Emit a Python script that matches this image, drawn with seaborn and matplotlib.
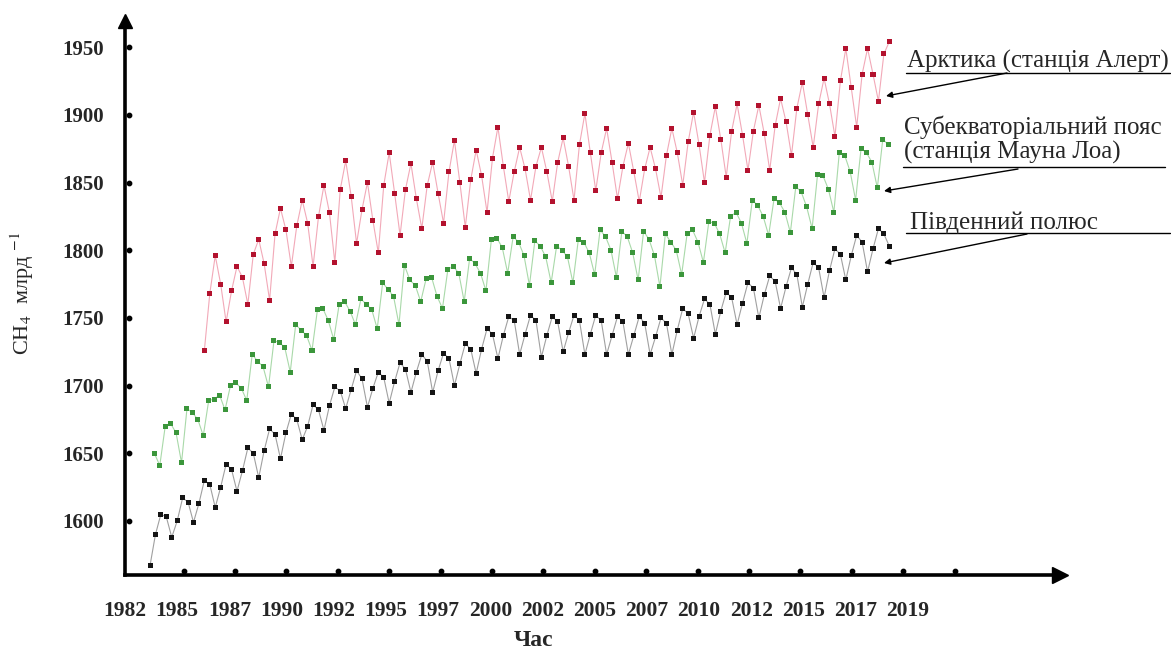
import numpy as np
import pandas as pd
import matplotlib
matplotlib.use("Agg")
import matplotlib.pyplot as plt
from matplotlib.lines import Line2D
import seaborn as sns

# ---------------- data ----------------
# South Pole, quarterly samples starting 1983.1
spo_start = 1983.1
spo_ppb = [
    1567, 1590, 1605, 1603,
    1588, 1600, 1617, 1614,
    1599, 1613, 1630, 1627,
    1610, 1625, 1642, 1638,
    1622, 1637, 1654, 1650,
    1632, 1652, 1668, 1664,
    1646, 1665, 1679, 1675,
    1660, 1670, 1686, 1682,
    1667, 1685, 1699, 1696,
    1683, 1697, 1711, 1705,
    1684, 1698, 1710, 1706,
    1687, 1703, 1717, 1712,
    1695, 1710, 1723, 1718,
    1695, 1711, 1724, 1720,
    1700, 1716, 1731, 1727,
    1709, 1727, 1742, 1738,
    1720, 1737, 1751, 1748,
    1723, 1738, 1752, 1748,
    1721, 1737, 1751, 1747,
    1725, 1739, 1752, 1748,
    1723, 1738, 1752, 1748,
    1723, 1737, 1751, 1747,
    1723, 1737, 1751, 1746,
    1723, 1736, 1750, 1746,
    1723, 1741, 1757, 1753,
    1735, 1751, 1764, 1760,
    1738, 1755, 1769, 1765,
    1745, 1761, 1776, 1772,
    1750, 1767, 1781, 1777,
    1757, 1773, 1787, 1782,
    1758, 1775, 1791, 1787,
    1765, 1785, 1801, 1797,
    1778, 1796, 1811, 1806,
    1784, 1801, 1816, 1812,
    1803,
]

# Mauna Loa, quarterly samples starting 1983.3
mlo_start = 1983.3
mlo_ppb = [
    1650, 1641, 1670,
    1672, 1665, 1643, 1683,
    1680, 1675, 1663, 1689,
    1690, 1693, 1682, 1700,
    1702, 1698, 1689, 1723,
    1718, 1714, 1699, 1733,
    1732, 1728, 1710, 1745,
    1741, 1737, 1726, 1756,
    1757, 1748, 1734, 1760,
    1762, 1755, 1745, 1764,
    1760, 1756, 1742, 1776,
    1771, 1766, 1745, 1789,
    1778, 1774, 1762, 1779,
    1780, 1766, 1757, 1786,
    1788, 1783, 1762, 1794,
    1790, 1783, 1770, 1808,
    1809, 1802, 1783, 1810,
    1806, 1796, 1774, 1807,
    1803, 1795, 1776, 1803,
    1800, 1795, 1776, 1808,
    1806, 1798, 1782, 1815,
    1810, 1800, 1780, 1814,
    1810, 1798, 1778, 1814,
    1808, 1796, 1773, 1812,
    1806, 1800, 1782, 1812,
    1815, 1806, 1791, 1821,
    1820, 1812, 1798, 1825,
    1828, 1820, 1805, 1837,
    1833, 1825, 1811, 1838,
    1835, 1828, 1813, 1847,
    1843, 1832, 1816, 1856,
    1855, 1845, 1828, 1872,
    1870, 1858, 1837, 1875,
    1872, 1865, 1846, 1882,
    1878,
]

# Alert (Arctic), quarterly samples starting 1985.6
alt_start = 1985.6
alt_ppb = [
    1726, 1768,
    1796, 1775, 1747, 1770,
    1788, 1780, 1760, 1797,
    1808, 1790, 1763, 1812,
    1831, 1815, 1788, 1818,
    1837, 1820, 1788, 1825,
    1848, 1828, 1791, 1845,
    1866, 1840, 1805, 1830,
    1850, 1822, 1798, 1848,
    1872, 1842, 1811, 1845,
    1864, 1838, 1816, 1848,
    1865, 1842, 1820, 1858,
    1881, 1850, 1817, 1852,
    1874, 1855, 1828, 1868,
    1891, 1862, 1836, 1858,
    1876, 1860, 1837, 1862,
    1876, 1858, 1836, 1865,
    1883, 1862, 1837, 1878,
    1901, 1872, 1844, 1872,
    1890, 1865, 1838, 1862,
    1879, 1858, 1836, 1860,
    1876, 1860, 1839, 1870,
    1890, 1872, 1848, 1880,
    1902, 1878, 1850, 1885,
    1906, 1882, 1854, 1888,
    1908, 1885, 1859, 1888,
    1907, 1886, 1859, 1892,
    1912, 1895, 1870, 1905,
    1924, 1900, 1876, 1908,
    1927, 1908, 1884, 1925,
    1949, 1920, 1891, 1930,
    1949, 1930, 1910, 1945,
    1954,
]

station_names = ["Арктика (станція Алерт)",
                 "Субекваторіальний пояс\n(станція Мауна Лоа)",
                 "Південний полюс"]
y_ticks = [1600, 1650, 1700, 1750, 1800, 1850, 1900, 1950]
x_tick_labels = ["1982", "1985", "1987", "1990", "1992", "1995", "1997", "2000",
                 "2002", "2005", "2007", "2010", "2012", "2015", "2017", "2019"]
x_label = "Час"
y_label = r"CH$_4$  млрд $^{-1}$"

# ---------------- build table ----------------
step = 0.25
frames = []
for key, start, vals in [("alt", alt_start, alt_ppb),
                         ("mlo", mlo_start, mlo_ppb),
                         ("spo", spo_start, spo_ppb)]:
    frames.append(pd.DataFrame({"year": start + step * np.arange(len(vals)),
                                "ppb": vals, "station": key}))
df = pd.concat(frames, ignore_index=True)

line_pal = {"alt": "#f2a9b8", "mlo": "#a9d9a9", "spo": "#a0a0a0"}
mark_pal = {"alt": "#b3122e", "mlo": "#3b963b", "spo": "#151515"}

# ---------------- figure ----------------
sns.set_theme(style="white")
plt.rcParams["font.family"] = ["Liberation Serif", "DejaVu Serif"]
plt.rcParams["mathtext.fontset"] = "stix"

W, H = 1171, 651
fig = plt.figure(figsize=(W / 100, H / 100), dpi=100)
ax_l, ax_r, ax_t, ax_b = 125, 1060, 21, 575
ax = fig.add_axes([ax_l / W, 1 - ax_b / H, (ax_r - ax_l) / W, (ax_b - ax_t) / H])

sns.lineplot(data=df, x="year", y="ppb", hue="station", palette=line_pal,
             units="station", estimator=None, sort=False, lw=0.8,
             legend=False, ax=ax)
sns.scatterplot(data=df, x="year", y="ppb", hue="station", palette=mark_pal,
                marker="s", s=13, linewidth=0, legend=False, ax=ax, zorder=3)

ax.set_xlim(1982.45, 2024.95)
ax.set_ylim(1560.1, 1969.3)

for s in ["top", "right"]:
    ax.spines[s].set_visible(False)
for s in ["left", "bottom"]:
    ax.spines[s].set_linewidth(2.6)
    ax.spines[s].set_color("black")

# arrow heads
ax.plot([1], [0], marker=">", ms=11, color="black", transform=ax.transAxes,
        clip_on=False, zorder=5)
ax.plot([0], [1], marker="^", ms=10, color="black", transform=ax.transAxes,
        clip_on=False, zorder=5)

# y ticks
ax.set_yticks(y_ticks)
ax.set_yticklabels([str(v) for v in y_ticks], fontweight="bold", fontsize=15)
ax.tick_params(axis="y", length=0, pad=15)
ax.scatter([0.004] * len(y_ticks), y_ticks, transform=ax.get_yaxis_transform(),
           s=10, color="black", clip_on=False, zorder=5)

# x ticks (labels and dot marks are placed independently, as in the source)
x_label_pos = np.linspace(1981.95, 2017.95, len(x_tick_labels))
ax.set_xticks(x_label_pos)
ax.set_xticklabels(x_tick_labels, fontweight="bold", fontsize=15.5)
ax.tick_params(axis="x", length=0, pad=19)
x_dot_pos = np.linspace(1984.65, 2020.1, len(x_tick_labels))
ax.scatter(x_dot_pos, [0.008] * len(x_dot_pos), transform=ax.get_xaxis_transform(),
           s=10, color="black", clip_on=False, zorder=5)

ax.set_xlabel("")
ax.set_ylabel("")
ax.grid(False)

fig.text(534 / W, 1 - 641 / H, x_label, ha="center", va="center",
         fontweight="bold", fontsize=17)
fig.text(22 / W, 1 - 293 / H, y_label, ha="center", va="center",
         rotation=90, fontsize=16)

# ---------------- station annotations ----------------
def fp(x, y):
    return (x / W, 1 - y / H)

ann_fs = 18
fig.text(*fp(907, 68), station_names[0], ha="left", va="baseline", fontsize=ann_fs)
fig.text(*fp(904, 159), station_names[1], ha="left", va="baseline",
         fontsize=ann_fs, linespacing=1.12)
fig.text(*fp(910, 229), station_names[2], ha="left", va="baseline", fontsize=ann_fs)

for (x0, x1, y) in [(906, 1170, 73), (903, 1165, 167), (906, 1170, 233)]:
    fig.add_artist(Line2D([x0 / W, x1 / W], [1 - y / H, 1 - y / H],
                          color="black", lw=1.0, transform=fig.transFigure))

for (sx, sy, ex, ey) in [(1007, 73, 886, 96), (1018, 169, 884, 191),
                         (1027, 234, 884, 263)]:
    fig.add_artist(plt.Annotation("", xy=fp(ex, ey), xytext=fp(sx, sy),
                                  xycoords="figure fraction",
                                  textcoords="figure fraction",
                                  arrowprops=dict(arrowstyle="-|>", lw=1.0,
                                                  color="black",
                                                  mutation_scale=9,
                                                  shrinkA=0, shrinkB=0)))

fig.savefig("out.png", dpi=100, facecolor="white")
